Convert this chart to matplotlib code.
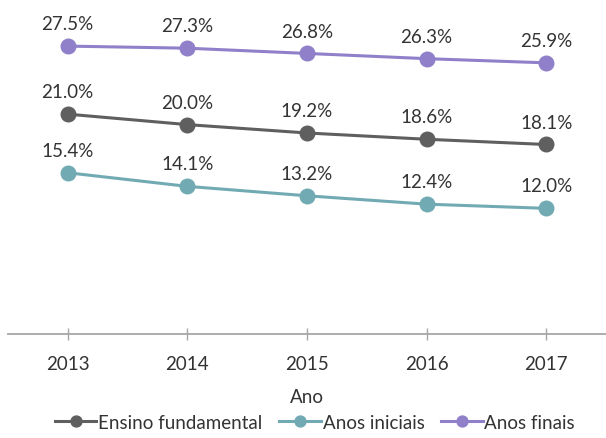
import matplotlib.pyplot as plt

years = [2013, 2014, 2015, 2016, 2017]
ensino_fundamental = [21.0, 20.0, 19.2, 18.6, 18.1]
anos_iniciais = [15.4, 14.1, 13.2, 12.4, 12.0]
anos_finais = [27.5, 27.3, 26.8, 26.3, 25.9]

series = [
    ("Ensino fundamental", ensino_fundamental, "#5f5f5f"),
    ("Anos iniciais", anos_iniciais, "#72aab3"),
    ("Anos finais", anos_finais, "#8f80c9"),
]

plt.rcParams["font.family"] = ["Lato", "DejaVu Sans"]
text_color = "#333333"

fig = plt.figure(figsize=(6.06, 4.39), dpi=100)
ax = fig.add_axes([0.013, 0.237, 0.987, 0.763])

for name, vals, color in series:
    ax.plot(years, vals, color=color, lw=2.2, marker="o", ms=10.5, label=name)
    for x, v in zip(years, vals):
        ax.annotate(f"{v:.1f}%", (x, v), xytext=(0, 10), textcoords="offset points",
                    ha="center", va="bottom", fontsize=13.5, color=text_color)

ax.set_xlim(2012.5, 2017.5)
ax.set_ylim(0, 32)
ax.set_xticks(years)
ax.set_xticklabels([str(y) for y in years], fontsize=13.5, color=text_color)
ax.set_yticks([])
for s in ["top", "right", "left"]:
    ax.spines[s].set_visible(False)
ax.spines["bottom"].set_color("#a6a6a6")
ax.spines["bottom"].set_linewidth(1.3)
ax.tick_params(axis="x", direction="inout", length=8, color="#a6a6a6", width=1, pad=11)
ax.set_xlabel("Ano", fontsize=13.5, color=text_color, labelpad=12)

fig.legend(loc="lower center", bbox_to_anchor=(0.52, -0.022), ncol=3, frameon=False,
           fontsize=13.5, handlelength=2.2, handletextpad=0.1, columnspacing=0.9,
           markerscale=0.75, labelcolor=text_color)

fig.savefig("out.png", dpi=100)
